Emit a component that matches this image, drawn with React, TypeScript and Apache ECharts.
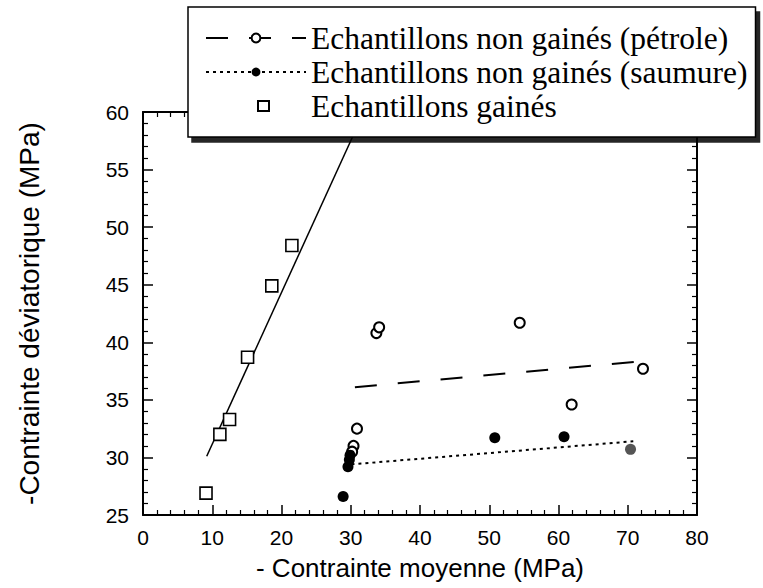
import { useEffect, useRef } from "react";
import * as echarts from "echarts";

// ---- data ----
const X_MIN = 0;
const X_MAX = 80;
const X_STEP = 10;
const Y_MIN = 25;
const Y_MAX = 60;
const Y_STEP = 5;

const NAME_PETROLE = "Echantillons non gainés (pétrole)";
const NAME_SAUMURE = "Echantillons non gainés (saumure)";
const NAME_GAINES = "Echantillons gainés";

const X_TITLE = "- Contrainte moyenne (MPa)";
const Y_TITLE = "-Contrainte déviatorique (MPa)";

// open circles (oil)
const petrolePoints: [number, number][] = [
  [33.7, 40.8],
  [34.1, 41.3],
  [54.4, 41.7],
  [72.2, 37.7],
  [61.9, 34.6],
  [30.9, 32.5],
  [30.4, 31.0],
  [30.2, 30.5],
];
// filled circles (brine)
const saumurePoints: [number, number][] = [
  [28.9, 26.6],
  [50.8, 31.7],
  [60.8, 31.8],
  [29.8, 29.8],
  [29.6, 29.2],
  [29.9, 30.2],
];
const saumureGreyPoints: [number, number][] = [[70.4, 30.7]];
// squares (jacketed)
const gainesPoints: [number, number][] = [
  [9.1, 26.9],
  [11.1, 32.0],
  [12.5, 33.3],
  [15.1, 38.7],
  [18.6, 44.9],
  [21.5, 48.4],
];
// fitted lines
const gainesFit: [number, number][] = [
  [9.2, 30.1],
  [31.9, 60.0],
];
const petroleFit: [number, number][] = [
  [30.6, 36.1],
  [71.0, 38.3],
];
const saumureFit: [number, number][] = [
  [30.1, 29.4],
  [70.8, 31.4],
];

const SANS = "Liberation Sans, Arial, sans-serif";
const SERIF = "Liberation Serif, Times New Roman, serif";

// legend icon for the squares: a small square inside a 100x11 box
const SQUARE_ICON =
  "path://M0 0 L0.01 0 M100 11 L99.99 11 M52 0.5 L63 0.5 L63 10.5 L52 10.5 Z";

function makeX(pos: "bottom" | "top", show: boolean) {
  return {
    type: "value",
    position: pos,
    min: X_MIN,
    max: X_MAX,
    interval: X_STEP,
    axisLine: { show: true, onZero: false, lineStyle: { color: "#000", width: 2 } },
    axisTick: { show: true, inside: true, length: 10, lineStyle: { color: "#000", width: 1.5 } },
    minorTick: { show: true, splitNumber: 5, length: 5, lineStyle: { color: "#000", width: 1.2 } },
    splitLine: { show: false },
    axisLabel: {
      show,
      color: "#000",
      fontFamily: SANS,
      fontSize: 21,
      margin: 12,
    },
    name: show ? X_TITLE : "",
    nameLocation: "middle",
    nameGap: 40,
    nameTextStyle: { color: "#000", fontFamily: SANS, fontSize: 26 },
  };
}

function makeY(pos: "left" | "right", show: boolean) {
  return {
    type: "value",
    position: pos,
    min: Y_MIN,
    max: Y_MAX,
    interval: Y_STEP,
    axisLine: { show: true, onZero: false, lineStyle: { color: "#000", width: 2 } },
    axisTick: { show: true, inside: true, length: 10, lineStyle: { color: "#000", width: 1.5 } },
    minorTick: { show: true, splitNumber: 5, length: 5, lineStyle: { color: "#000", width: 1.2 } },
    splitLine: { show: false },
    axisLabel: {
      show,
      color: "#000",
      fontFamily: SANS,
      fontSize: 21,
      margin: 14,
    },
    name: show ? Y_TITLE : "",
    nameLocation: "middle",
    nameGap: 100,
    nameRotate: 90,
    nameTextStyle: { color: "#000", fontFamily: SANS, fontSize: 28 },
  };
}

export default function App() {
  const ref = useRef<HTMLDivElement>(null);

  useEffect(() => {
    if (!ref.current) return;
    const chart = echarts.init(ref.current, undefined, { renderer: "svg" });
    chart.setOption({
      animation: false,
      backgroundColor: "#fff",
      grid: { left: 143, right: 66, top: 112, bottom: 73, containLabel: false },
      legend: {
        data: [NAME_PETROLE, NAME_SAUMURE, { name: NAME_GAINES, icon: SQUARE_ICON }],
        orient: "vertical",
        left: 188,
        top: 7,
        itemWidth: 100,
        itemHeight: 11,
        itemGap: 0,
        padding: [14, 8, 14, 17],
        backgroundColor: "#fff",
        borderColor: "#000",
        borderWidth: 1.5,
        shadowColor: "rgba(0,0,0,0.85)",
        shadowBlur: 0,
        shadowOffsetX: 4,
        shadowOffsetY: 5,
        selectedMode: false,
        textStyle: { color: "#000", fontFamily: SERIF, fontSize: 31.5, lineHeight: 34 },
      },
      xAxis: [makeX("bottom", true), makeX("top", false)],
      yAxis: [makeY("left", true), makeY("right", false)],
      series: [
        {
          name: NAME_PETROLE,
          type: "line",
          data: petroleFit,
          symbol: "emptyCircle",
          showSymbol: false,
          itemStyle: { color: "#000" },
          lineStyle: { color: "#000", width: 2, type: [22, 21] },
          z: 3,
        },
        {
          name: NAME_SAUMURE,
          type: "line",
          data: saumureFit,
          symbol: "circle",
          showSymbol: false,
          itemStyle: { color: "#000" },
          lineStyle: { color: "#000", width: 2, type: [3, 4] },
          z: 3,
        },
        {
          name: NAME_GAINES,
          type: "scatter",
          data: gainesPoints,
          symbol: "rect",
          symbolSize: 12,
          itemStyle: { color: "#fff", borderColor: "#000", borderWidth: 1.6, opacity: 1 },
          z: 3,
        },
        {
          name: "gainés (droite)",
          type: "line",
          data: gainesFit,
          showSymbol: false,
          symbol: "none",
          lineStyle: { color: "#000", width: 1.5, type: "solid" },
          z: 2,
        },
        {
          name: "pétrole (points)",
          type: "scatter",
          data: petrolePoints,
          symbol: "circle",
          symbolSize: 10,
          itemStyle: { color: "#fff", borderColor: "#000", borderWidth: 2, opacity: 1 },
          z: 4,
        },
        {
          name: "saumure (points)",
          type: "scatter",
          data: [
            ...saumurePoints,
            ...saumureGreyPoints.map((p) => ({ value: p, itemStyle: { color: "#555" } })),
          ],
          symbol: "circle",
          symbolSize: 11,
          itemStyle: { color: "#000", opacity: 1 },
          z: 4,
        },
      ],
    });
    return () => chart.dispose();
  }, []);

  return (
    <div
      ref={ref}
      style={{ position: "fixed", left: 0, top: 0, width: 763, height: 588, background: "#fff" }}
    />
  );
}
